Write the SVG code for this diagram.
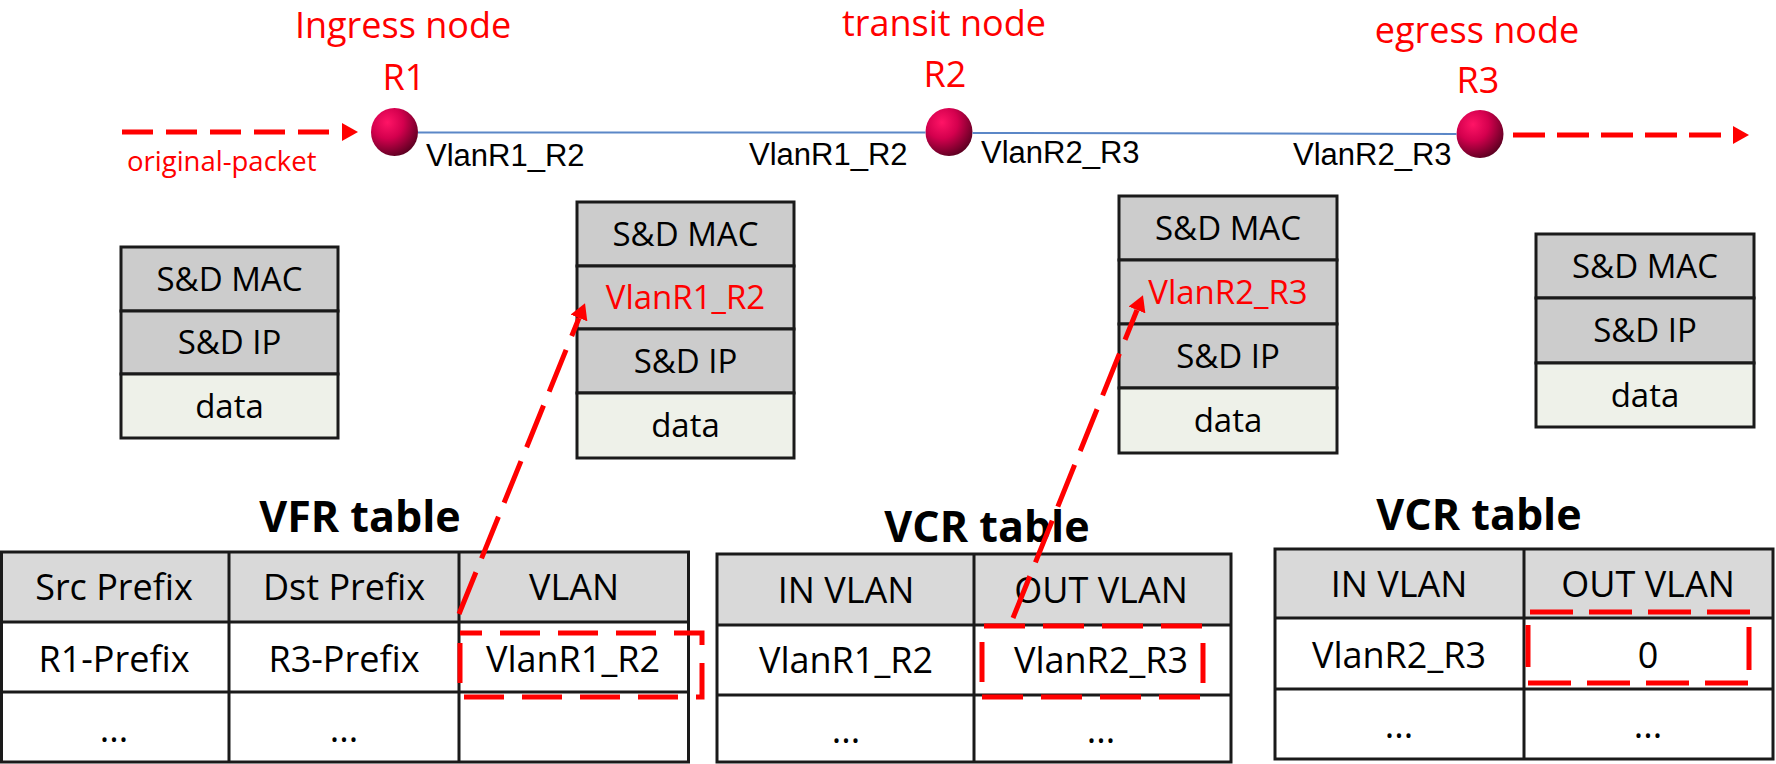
<svg xmlns="http://www.w3.org/2000/svg" width="1776" height="764" viewBox="0 0 1776 764">
<style>
.lbl{font-family:"Open Sans","Noto Sans",sans-serif;fill:#ff0000;font-size:36px;text-anchor:middle}
.link{font-family:"Liberation Sans",Arial,sans-serif;fill:#000;font-size:31px}
.cell{font-family:"Open Sans","Noto Sans",sans-serif;fill:#000;font-size:33px;text-anchor:middle}
.tcell{font-family:"Open Sans","Noto Sans",sans-serif;fill:#000;font-size:36px;text-anchor:middle}
.title{font-family:"Open Sans","Noto Sans",sans-serif;fill:#000;font-size:43px;font-weight:bold;text-anchor:middle}
.red{fill:#ff0000}
.hdr{fill:#cccccc;stroke:#1a1a1a;stroke-width:3}
.dat{fill:#eef1e9;stroke:#1a1a1a;stroke-width:3}
.th{fill:#d9d9d9}
.tb{fill:none;stroke:#1a1a1a;stroke-width:3}
.dash{stroke:#ff0000;stroke-width:5;fill:none}
.blue{stroke:#5b87c7;stroke-width:2}
</style>
<defs>
<radialGradient id="ball" cx="0.35" cy="0.3" r="0.75">
<stop offset="0" stop-color="#ff1466"/>
<stop offset="0.45" stop-color="#d4004e"/>
<stop offset="1" stop-color="#5a0020"/>
</radialGradient>
<marker id="ah" markerUnits="userSpaceOnUse" markerWidth="16" markerHeight="18" viewBox="0 0 16 18" refX="0" refY="9" orient="auto">
<path d="M0,0 L16,9 L0,18 z" fill="#ff0000"/>
</marker>
</defs>
<rect width="1776" height="764" fill="#ffffff"/>

<g id="node-R1">
<ellipse cx="394.5" cy="132" rx="23.5" ry="24" fill="url(#ball)"/>
<text class="lbl" x="403" y="38">Ingress node</text>
<text class="lbl" x="404" y="90">R1</text>
</g>
<g id="node-R2">
<ellipse cx="949" cy="132" rx="23.5" ry="24" fill="url(#ball)"/>
<text class="lbl" x="944" y="36">transit node</text>
<text class="lbl" x="945" y="87">R2</text>
</g>
<g id="node-R3">
<ellipse cx="1480" cy="134" rx="23.5" ry="24" fill="url(#ball)"/>
<text class="lbl" x="1477" y="43">egress node</text>
<text class="lbl" x="1478" y="93">R3</text>
</g>

<g id="packet-1">
<rect class="hdr" x="121" y="247" width="217" height="64"/>
<rect class="hdr" x="121" y="311" width="217" height="63"/>
<rect class="dat" x="121" y="374" width="217" height="64"/>
<text class="cell" x="229.5" y="291">S&amp;D MAC</text>
<text class="cell" x="229.5" y="354">S&amp;D IP</text>
<text class="cell" x="229.5" y="418">data</text>
</g>
<g id="packet-2">
<rect class="hdr" x="577" y="202" width="217" height="64"/>
<rect class="hdr" x="577" y="266" width="217" height="63"/>
<rect class="hdr" x="577" y="329" width="217" height="64"/>
<rect class="dat" x="577" y="393" width="217" height="65"/>
<text class="cell" x="685.5" y="246">S&amp;D MAC</text>
<text class="cell red" x="685.5" y="309">VlanR1_R2</text>
<text class="cell" x="685.5" y="373">S&amp;D IP</text>
<text class="cell" x="685.5" y="437">data</text>
</g>
<g id="packet-3">
<rect class="hdr" x="1119" y="196" width="218" height="64"/>
<rect class="hdr" x="1119" y="260" width="218" height="64"/>
<rect class="hdr" x="1119" y="324" width="218" height="64"/>
<rect class="dat" x="1119" y="388" width="218" height="65"/>
<text class="cell" x="1228" y="240">S&amp;D MAC</text>
<text class="cell red" x="1228" y="304">VlanR2_R3</text>
<text class="cell" x="1228" y="368">S&amp;D IP</text>
<text class="cell" x="1228" y="432">data</text>
</g>
<g id="packet-4">
<rect class="hdr" x="1536" y="234" width="218" height="64"/>
<rect class="hdr" x="1536" y="298" width="218" height="65"/>
<rect class="dat" x="1536" y="363" width="218" height="64"/>
<text class="cell" x="1645" y="278">S&amp;D MAC</text>
<text class="cell" x="1645" y="342">S&amp;D IP</text>
<text class="cell" x="1645" y="407">data</text>
</g>

<g id="vfr-table">
<text class="title" x="360" y="532">VFR table</text>
<rect class="th" x="1.5" y="552" width="687" height="70"/>
<rect class="tb" x="1.5" y="552" width="687" height="210"/>
<path class="tb" d="M1.5,622 H688.5 M1.5,692 H688.5 M229,552 V762 M459,552 V762"/>
<text class="tcell" x="114" y="600">Src Prefix</text>
<text class="tcell" x="344" y="600">Dst Prefix</text>
<text class="tcell" x="574" y="600">VLAN</text>
<text class="tcell" x="114" y="672">R1-Prefix</text>
<text class="tcell" x="344" y="672">R3-Prefix</text>
<text class="tcell" x="573" y="672">VlanR1_R2</text>
<text class="tcell" x="114" y="742">...</text>
<text class="tcell" x="344" y="742">...</text>
<rect class="dash" x="460" y="633" width="242" height="64" stroke-dasharray="40 18" stroke-dashoffset="18"/>
</g>

<g id="vcr-table-1">
<text class="title" x="987" y="542">VCR table</text>
<rect class="th" x="717" y="554" width="514" height="71"/>
<rect class="tb" x="717" y="554" width="514" height="208"/>
<path class="tb" d="M717,625 H1231 M717,695 H1231 M974,554 V762"/>
<text class="tcell" x="846" y="603">IN VLAN</text>
<text class="tcell" x="1101" y="603">OUT VLAN</text>
<text class="tcell" x="846" y="673">VlanR1_R2</text>
<text class="tcell" x="1101" y="673">VlanR2_R3</text>
<text class="tcell" x="846" y="743">...</text>
<text class="tcell" x="1101" y="743">...</text>
<path class="dash" d="M984,626 H1202 M982,697 H1200" stroke-dasharray="41 18"/>
<path class="dash" d="M982,642 V682 M1203,643 V683"/>
</g>

<g id="vcr-table-2">
<text class="title" x="1479" y="530">VCR table</text>
<rect class="th" x="1275" y="549" width="498" height="69"/>
<rect class="tb" x="1275" y="549" width="498" height="210"/>
<path class="tb" d="M1275,618 H1773 M1275,689 H1773 M1524,549 V759"/>
<text class="tcell" x="1399" y="597">IN VLAN</text>
<text class="tcell" x="1648" y="597">OUT VLAN</text>
<text class="tcell" x="1399" y="668">VlanR2_R3</text>
<text class="tcell" x="1648" y="668">0</text>
<text class="tcell" x="1399" y="738">...</text>
<text class="tcell" x="1648" y="738">...</text>
<path class="dash" d="M1530,612 H1750 M1528,683 H1748" stroke-dasharray="43 16"/>
<path class="dash" d="M1528,625 V667 M1749,627 V670"/>
</g>

<g id="connectors">
<line class="blue" x1="418" y1="132.5" x2="925.5" y2="132.5"/>
<line class="blue" x1="972.5" y1="133" x2="1456.5" y2="134"/>
<line class="dash" x1="122" y1="132" x2="342" y2="132" stroke-dasharray="31 13" marker-end="url(#ah)"/>
<line class="dash" x1="1513" y1="135" x2="1733" y2="135" stroke-dasharray="32 12" marker-end="url(#ah)"/>
<line class="dash" x1="459" y1="614" x2="579" y2="318" stroke-dasharray="45 15" marker-end="url(#ah)"/>
<line class="dash" x1="1013" y1="618" x2="1137" y2="310" stroke-dasharray="45 15" marker-end="url(#ah)"/>
<text class="lbl" x="127" y="171" style="font-size:27.5px;text-anchor:start">original-packet</text>
<text class="link" x="426" y="166">VlanR1_R2</text>
<text class="link" x="749" y="165">VlanR1_R2</text>
<text class="link" x="981" y="163">VlanR2_R3</text>
<text class="link" x="1293" y="165">VlanR2_R3</text>
</g>
</svg>
